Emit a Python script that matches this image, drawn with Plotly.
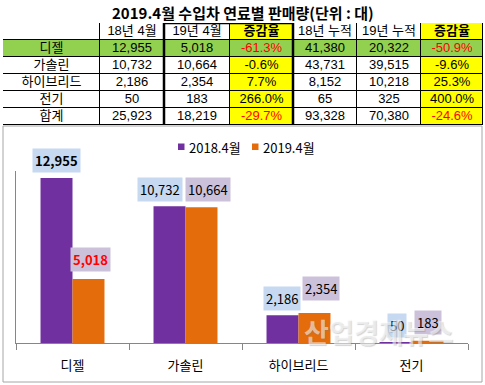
import plotly.graph_objects as go

# ---------------- data ----------------
title_text = "2019.4월 수입차 연료별 판매량(단위 : 대)"
header_labels = ["", "18년 4월", "19년 4월", "증감율", "18년 누적", "19년 누적", "증감율"]
row_labels = ["디젤", "가솔린", "하이브리드", "전기", "합계"]
apr_2018 = [12955, 10732, 2186, 50, 25923]
apr_2019 = [5018, 10664, 2354, 183, 18219]
apr_change = [-61.3, -0.6, 7.7, 266.0, -29.7]
ytd_2018 = [41380, 43731, 8152, 65, 93328]
ytd_2019 = [20322, 39515, 10218, 325, 70380]
ytd_change = [-50.9, -9.6, 25.3, 400.0, -24.6]

fuel_categories = ["디젤", "가솔린", "하이브리드", "전기"]
series_2018 = [12955, 10732, 2186, 50]
series_2019 = [5018, 10664, 2354, 183]
series_names = ["2018.4월", "2019.4월"]

# ---------------- layout constants ----------------
W, H = 485, 385
FONT = "Noto Sans CJK KR"
TFONT = "Liberation Sans, Noto Sans CJK KR"
PURPLE = "#7030A0"
ORANGE = "#E46C0A"
GREEN = "#92D050"
YELLOW = "#FFFF00"
LBL_BLUE = "#C6D9F1"
LBL_PURP = "#CCC1DA"
AXIS_GRAY = "#868686"


def px_x(v):
    return v / W


def px_y(v):
    return 1 - v / H


col_w = [97, 64, 66, 63, 64, 64, 62]
table_left, table_top, row_h = 3, 23, 17
n_rows = 1 + len(row_labels)
table_bottom = table_top + n_rows * row_h

edges = [0]
for w in col_w:
    edges.append(edges[-1] + w)
centers = [(edges[i] + edges[i + 1]) / 2 for i in range(len(col_w))]

fmt_n = lambda v: f"{v:,}"
fmt_p = lambda v: f"{v:.1f}%"

body_cols = [row_labels,
             [fmt_n(v) for v in apr_2018],
             [fmt_n(v) for v in apr_2019],
             [fmt_p(v) for v in apr_change],
             [fmt_n(v) for v in ytd_2018],
             [fmt_n(v) for v in ytd_2019],
             [fmt_p(v) for v in ytd_change]]
change_cols = {3: apr_change, 6: ytd_change}

# cell colour codes: 0 white, 1 yellow, 2 green
z = []
for ri in range(n_rows):
    row = []
    for ci in range(len(col_w)):
        if ri == 1:
            row.append(2)
        elif ci in change_cols:
            row.append(1)
        else:
            row.append(0)
    z.append(row)

heat = go.Heatmap(z=z, x=edges, y=list(range(n_rows + 1)), xaxis="x2", yaxis="y2",
                  colorscale=[[0, "white"], [0.5, YELLOW], [1, GREEN]], zmin=0, zmax=2,
                  showscale=False, xgap=1, ygap=1, hoverinfo="skip")

tx, ty, tt, tc = [], [], [], []
for ci, h in enumerate(header_labels):
    tx.append(centers[ci]); ty.append(0.5)
    tt.append(f"<b>{h}</b>" if h == "증감율" else h)
    tc.append("black")
for ci, col in enumerate(body_cols):
    for ri, val in enumerate(col):
        tx.append(centers[ci]); ty.append(ri + 1.5); tt.append(val)
        if ci in change_cols and change_cols[ci][ri] < -20:
            tc.append("#FF0000")
        else:
            tc.append("black")

cell_text = go.Scatter(x=tx, y=ty, text=tt, mode="text", xaxis="x2", yaxis="y2",
                       textposition="middle center", hoverinfo="skip", showlegend=False,
                       textfont=dict(family=TFONT, size=13, color=tc))

bar18 = go.Bar(x=fuel_categories, y=series_2018, name=series_names[0], marker_color=PURPLE,
               marker_line_width=0, showlegend=False)
bar19 = go.Bar(x=fuel_categories, y=series_2019, name=series_names[1], marker_color=ORANGE,
               marker_line_width=0, showlegend=False)

fig = go.Figure([heat, cell_text, bar18, bar19])

ax_left, ax_right, ax_top, ax_bottom = 16, 468, 171, 343
fig.update_layout(
    width=W, height=H, margin=dict(l=0, r=0, t=0, b=0),
    paper_bgcolor="white", plot_bgcolor="rgba(0,0,0,0)",
    barmode="group", bargap=0.434, bargroupgap=0,
    xaxis=dict(domain=[px_x(ax_left), px_x(ax_right)], type="category", tickson="boundaries",
               ticks="outside", ticklen=6, tickcolor=AXIS_GRAY, showline=True, linecolor=AXIS_GRAY,
               linewidth=1, showgrid=False, ticklabelstandoff=10,
               tickfont=dict(family=FONT, size=13, color="black")),
    yaxis=dict(domain=[px_y(ax_bottom), px_y(ax_top)], range=[0, 13500], showline=True,
               linecolor=AXIS_GRAY, linewidth=1, showgrid=False, zeroline=False,
               showticklabels=False, ticks=""),
    xaxis2=dict(domain=[px_x(table_left), px_x(table_left + edges[-1])], range=[0, edges[-1]],
                visible=False, fixedrange=True),
    yaxis2=dict(domain=[px_y(table_bottom), px_y(table_top)], range=[n_rows, 0],
                visible=False, fixedrange=True),
    font=dict(family=FONT),
)

annotations = []
shapes = []

# black backing behind the table cells -> grid lines through the heatmap gaps
shapes.append(dict(type="rect", xref="x2", yref="y2", x0=-0.5, x1=edges[-1] + 0.5, y0=-0.03,
                   y1=n_rows + 0.03, fillcolor="black", line=dict(width=0), layer="below"))

# title
annotations.append(dict(text=f"<b>{title_text}</b>", x=px_x(243), y=px_y(12), xref="paper", yref="paper",
                        showarrow=False, font=dict(family=FONT, size=15, color="black"),
                        xanchor="center", yanchor="middle"))

# thick border around 19년 4월 + 증감율 columns
shapes.append(dict(type="rect", xref="x2", yref="y2", x0=edges[2], x1=edges[4],
                   y0=0, y1=n_rows + 0.05, line=dict(color="black", width=2.5),
                   fillcolor="rgba(0,0,0,0)"))

# chart frame
shapes.append(dict(type="rect", xref="paper", yref="paper", x0=px_x(3), x1=px_x(482),
                   y0=px_y(382), y1=px_y(table_bottom + 1),
                   line=dict(color="#A6A6A6", width=1), fillcolor="rgba(0,0,0,0)", layer="below"))

# legend
for i, (nm, colr) in enumerate(zip(series_names, [PURPLE, ORANGE])):
    lx = 178 + i * 74
    shapes.append(dict(type="rect", xref="paper", yref="paper", x0=px_x(lx), x1=px_x(lx + 6.5),
                       y0=px_y(150), y1=px_y(143.5), fillcolor=colr, line=dict(width=0)))
    annotations.append(dict(text=nm, x=px_x(lx + 9), y=px_y(147), xref="paper", yref="paper",
                            showarrow=False, xanchor="left", yanchor="middle",
                            font=dict(family=FONT, size=13, color="black")))

# data labels (label nudges in px: dx from bar centre, gap above bar)
nudge18 = [(0, 5), (-10, 4), (-1, 4), (1, 4)]
nudge19 = [(2, 7), (6, 5), (6, 12), (0, 6)]
for cat, v, (dx, gap) in zip(fuel_categories, series_2018, nudge18):
    bold = v == max(series_2018)
    annotations.append(dict(x=cat, y=v, xref="x", yref="y", text=(f"<b>{v:,}</b>" if bold else f"{v:,}"),
                            showarrow=False, xshift=-16 + dx, yshift=gap, yanchor="bottom",
                            bgcolor=LBL_BLUE, borderpad=2,
                            font=dict(family=FONT, size=13, color="black")))
for cat, v, (dx, gap) in zip(fuel_categories, series_2019, nudge19):
    red = cat == "디젤"
    annotations.append(dict(x=cat, y=v, xref="x", yref="y", text=(f"<b>{v:,}</b>" if red else f"{v:,}"),
                            showarrow=False, xshift=16 + dx, yshift=gap, yanchor="bottom",
                            bgcolor=LBL_PURP, borderpad=2,
                            font=dict(family=FONT, size=13, color=("#FF0000" if red else "black"))))

# watermark
annotations.append(dict(text="<b>산업경제뉴스</b>", x=px_x(378), y=px_y(331), xref="paper", yref="paper",
                        showarrow=False, xanchor="center", yanchor="middle",
                        font=dict(family=FONT, size=27, color="rgba(255,255,255,0.55)",
                                  shadow="1px 1px 1px rgba(120,120,120,0.6)")))

fig.update_layout(annotations=annotations, shapes=shapes)
fig.write_html("out.html", config={"displayModeBar": False},
               post_script="document.body.style.margin='0';document.body.style.overflow='hidden';")
